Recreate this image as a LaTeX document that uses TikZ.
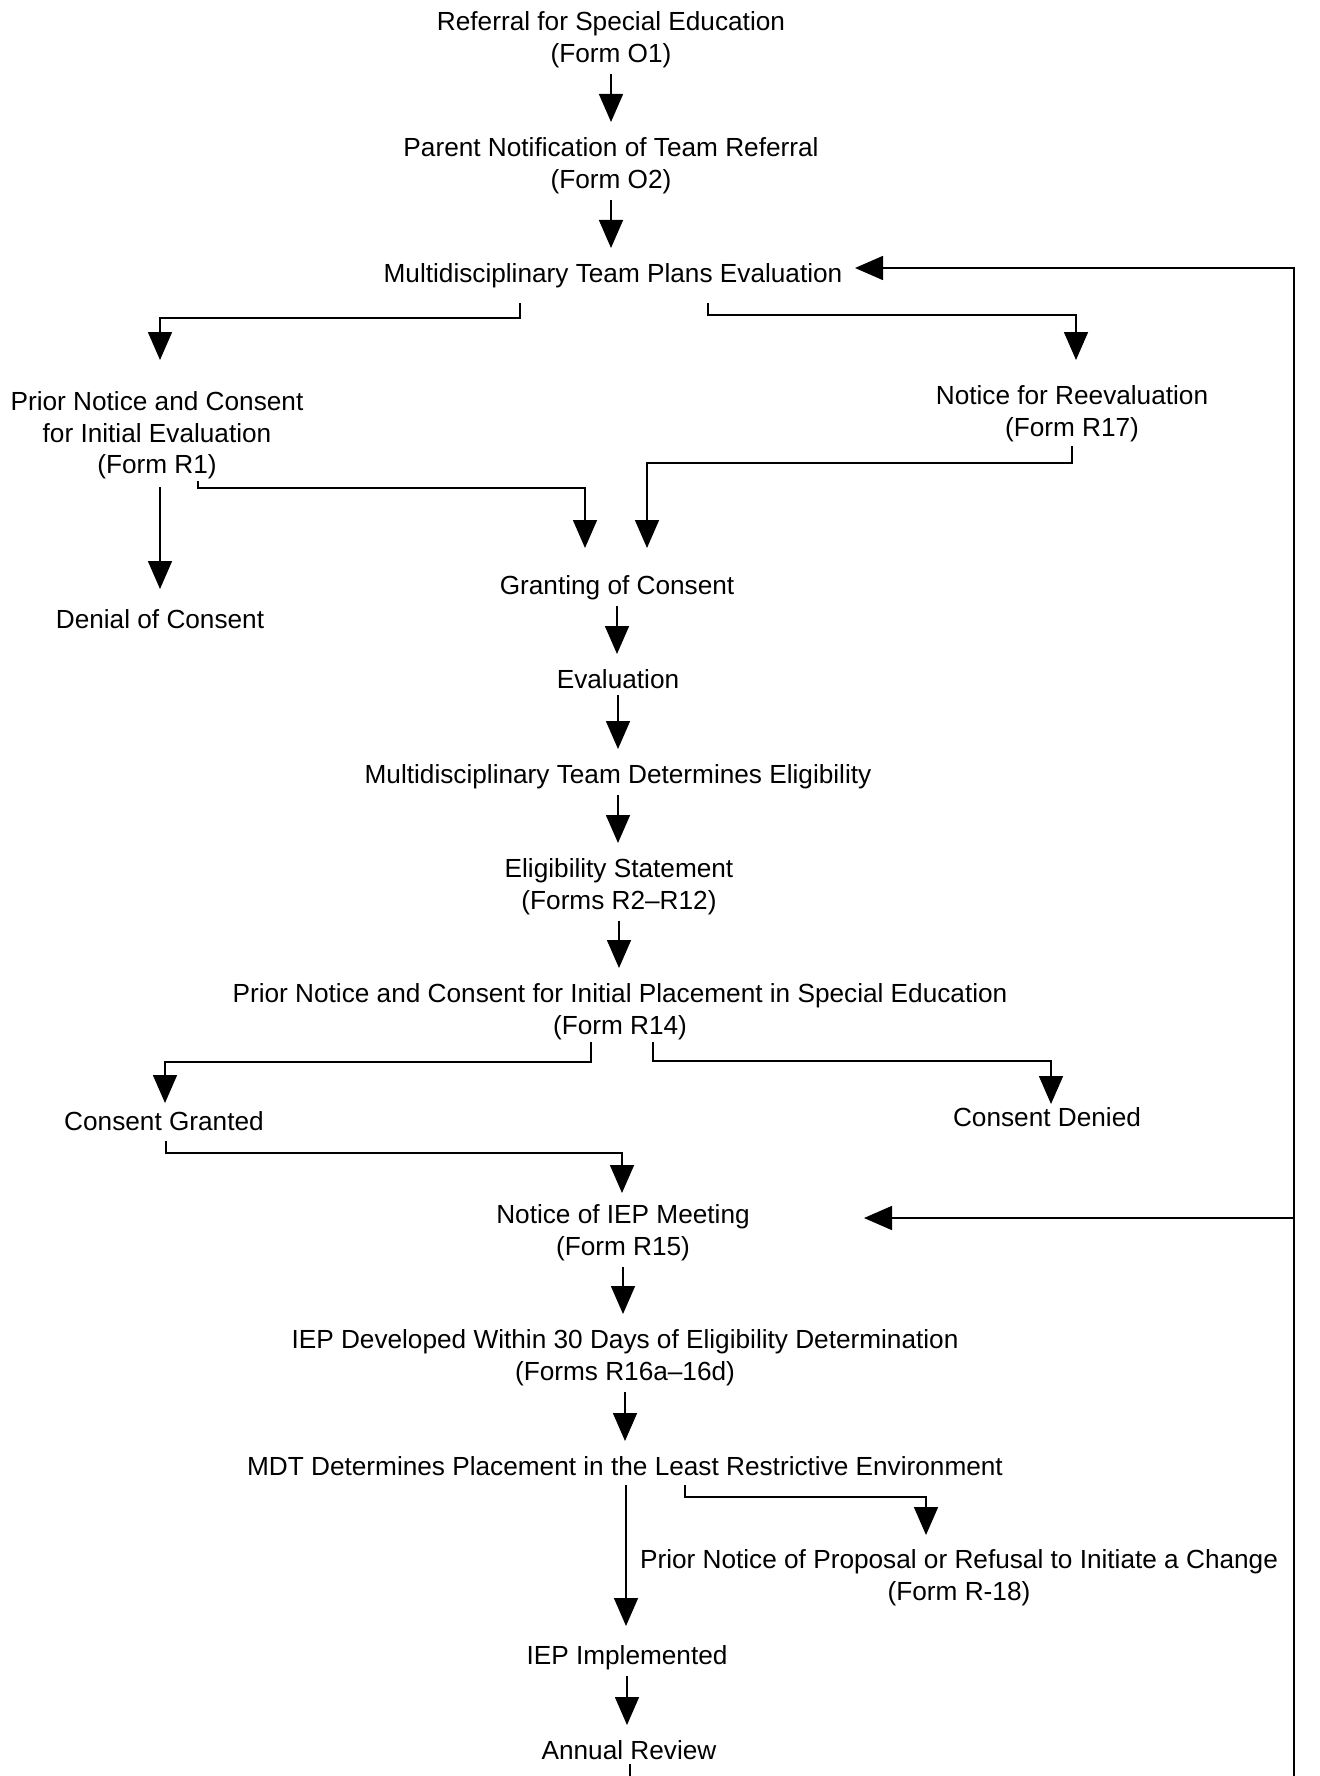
\documentclass[tikz,border=0pt]{standalone}
\usepackage{fontspec}
\setmainfont{Liberation Sans}
\usetikzlibrary{arrows.meta}
\begin{document}
\begin{tikzpicture}[x=0.5pt,y=-0.5pt,
  lbl/.style={align=center, inner sep=0pt, anchor=north, font=\fontsize{13.1}{15.85}\selectfont},
  conn/.style={line width=0.8pt, line join=miter},
  arr/.style={conn, -{Triangle[length=14pt,width=12pt]}},
  varr/.style={arr, shorten <=3pt, shorten >=7.5pt}]
\fill[white] (0,0) rectangle (1319,1776);
\useasboundingbox (0,0) rectangle (1319,1776);

% nodes
\node[lbl] (ref)    at (611,11.5) {Referral for Special Education\\(Form O1)};
\node[lbl] (notif)  at (611,137)  {Parent Notification of Team Referral\\(Form O2)};
\node[lbl] (mtpe)   at (613,263)  {Multidisciplinary Team Plans Evaluation};
\node[lbl] (pnci)   at (157,391)  {Prior Notice and Consent\\for Initial Evaluation\\(Form R1)};
\node[lbl] (reeval) at (1072,385) {Notice for Reevaluation\\(Form R17)};
\node[lbl] (denial) at (160,609)  {Denial of Consent};
\node[lbl] (grant)  at (617,575)  {Granting of Consent};
\node[lbl] (evalu)  at (618,669)  {Evaluation};
\node[lbl] (mtde)   at (618,764)  {Multidisciplinary Team Determines Eligibility};
\node[lbl] (elig)   at (619,858)  {Eligibility Statement\\(Forms R2--R12)};
\node[lbl] (pnip)   at (620,983)  {Prior Notice and Consent for Initial Placement in Special Education\\(Form R14)};
\node[lbl] (cgrant) at (164,1111) {Consent Granted};
\node[lbl] (cdenied) at (1047,1107) {Consent Denied};
\node[lbl] (niep)   at (623,1204) {Notice of IEP Meeting\\(Form R15)};
\node[lbl] (iepdev) at (625,1329) {IEP Developed Within 30 Days of Eligibility Determination\\(Forms R16a--16d)};
\node[lbl] (mdtp)   at (625,1456) {MDT Determines Placement in the Least Restrictive Environment};
\node[lbl] (pnpr)   at (959,1549) {Prior Notice of Proposal or Refusal to Initiate a Change\\(Form R-18)};
\node[lbl] (iepimp) at (627,1645) {IEP Implemented};
\node[lbl] (annual) at (629,1740) {Annual Review};

% straight vertical arrows
\draw[varr] (ref) -- (ref |- notif.north);
\draw[varr] (notif) -- (notif |- mtpe.north);
\draw[varr] (grant) -- (grant |- evalu.north);
\draw[varr] (evalu) -- (evalu |- mtde.north);
\draw[varr] (mtde) -- (mtde |- elig.north);
\draw[varr] (elig) -- (elig |- pnip.north);
\draw[varr] (niep) -- (niep |- iepdev.north);
\draw[varr] (iepdev) -- (iepdev |- mdtp.north);
\draw[varr] (iepimp) -- (iepimp |- annual.north);

% branch coordinates
\coordinate (mtpeL) at (520,303);
\coordinate (pnciIn) at (160,360);
\coordinate (mtpeR) at (708,303);
\coordinate (reevalIn) at (1076,360);
\coordinate (pnciD) at (160,487);
\coordinate (denialIn) at (160,589);
\coordinate (pnciR) at (198,481);
\coordinate (grantInL) at (585,548);
\coordinate (reevalD) at (1072,446);
\coordinate (grantInR) at (647,548);
\coordinate (pnipL) at (591,1042);
\coordinate (cgrantIn) at (165,1103);
\coordinate (pnipR) at (653,1042);
\coordinate (cdeniedIn) at (1051,1104);
\coordinate (cgrantD) at (166,1141);
\coordinate (niepIn) at (622,1193);
\coordinate (mdtpD) at (626,1485);
\coordinate (iepimpIn) at (626,1626);
\coordinate (mdtpR) at (685,1485);
\coordinate (pnprIn) at (926,1535);
\coordinate (annualD) at (630,1764);
\coordinate (bottomC) at (630,1776);
\coordinate (loopB) at (1294,1776);
\coordinate (loopT) at (1294,268);
\coordinate (mtpeIn) at (855,268);
\coordinate (loopM) at (1294,1218);
\coordinate (niepInR) at (864,1218);

% branch connectors
\draw[arr] (mtpeL) -- (520,318) -- (160,318) -- (pnciIn);
\draw[arr] (mtpeR) -- (708,315) -- (1076,315) -- (reevalIn);
\draw[arr] (pnciD) -- (denialIn);
\draw[arr] (pnciR) -- (198,488) -- (585,488) -- (grantInL);
\draw[arr] (reevalD) -- (1072,463) -- (647,463) -- (grantInR);
\draw[arr] (pnipL) -- (591,1062) -- (165,1062) -- (cgrantIn);
\draw[arr] (pnipR) -- (653,1061) -- (1051,1061) -- (cdeniedIn);
\draw[arr] (cgrantD) -- (166,1153) -- (622,1153) -- (niepIn);
\draw[arr] (mdtpD) -- (iepimpIn);
\draw[arr] (mdtpR) -- (685,1497) -- (926,1497) -- (pnprIn);
\draw[conn] (annualD) -- (bottomC);
\draw[arr] (loopB) -- (loopT) -- (mtpeIn);
\draw[arr] (loopM) -- (niepInR);
\end{tikzpicture}
\end{document}
